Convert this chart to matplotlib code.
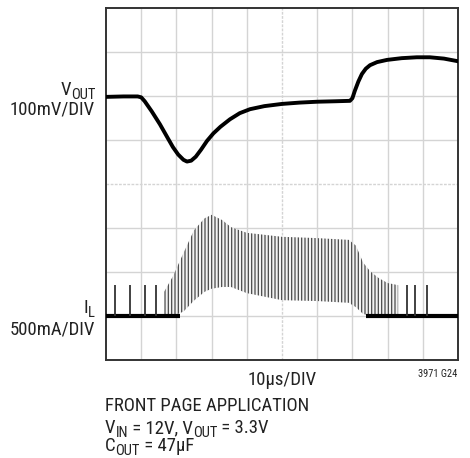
import matplotlib
matplotlib.use("Agg")
import matplotlib.pyplot as plt
from matplotlib import font_manager

# scope trace, in divisions (x: 0..10, y: 0..8)
vout_t = [0.0, 0.5, 0.9, 1.0, 1.1, 1.3, 1.53, 1.75, 1.9, 2.05, 2.2, 2.3, 2.42, 2.55,
          2.7, 2.87, 3.05, 3.25, 3.52, 3.8, 4.09, 4.5, 5.0, 5.5, 6.0, 6.5, 6.93, 7.0,
          7.07, 7.17, 7.27, 7.38, 7.5, 7.7, 7.98, 8.4, 8.83, 9.2, 9.6, 10.0]
vout_v = [5.98, 5.99, 5.99, 5.97, 5.88, 5.65, 5.36, 5.05, 4.84, 4.67, 4.55, 4.51, 4.53, 4.62,
          4.78, 4.98, 5.15, 5.3, 5.47, 5.61, 5.7, 5.77, 5.82, 5.85, 5.87, 5.88, 5.89, 5.95,
          6.12, 6.33, 6.5, 6.62, 6.7, 6.77, 6.82, 6.86, 6.88, 6.88, 6.85, 6.79]

# inductor current ripple envelope (peaks and valleys)
il_t = [1.65, 1.9, 2.2, 2.5, 2.8, 3.0, 3.3, 3.55, 4.0, 5.0, 6.0, 6.9, 7.1, 7.3, 7.5, 7.75, 8.0, 8.3]
il_peak = [1.55, 1.9, 2.43, 2.95, 3.22, 3.3, 3.18, 3.02, 2.89, 2.8, 2.77, 2.73, 2.6, 2.22, 2.02, 1.86, 1.75, 1.7]
il_valley = [1.0, 1.0, 1.1, 1.35, 1.55, 1.62, 1.66, 1.66, 1.52, 1.36, 1.34, 1.3, 1.2, 1.05, 1.0, 1.0, 1.0, 1.0]
il_base = 1.0
spike_t = [0.26, 0.68, 1.11, 1.43, 8.55, 8.78, 9.12]
spike_top = [1.7, 1.7, 1.7, 1.7, 1.7, 1.7, 1.7]

names = {f.name for f in font_manager.fontManager.ttflist}
font = next((f for f in ["Roboto Condensed", "Archivo Narrow", "Liberation Sans Narrow", "Roboto"]
             if f in names), "DejaVu Sans")
plt.rcParams["font.family"] = [font, "DejaVu Sans"]
plt.rcParams["hatch.linewidth"] = 0.9

W, H = 470, 458
fig = plt.figure(figsize=(W / 100, H / 100), dpi=100)
ax = fig.add_axes([106 / W, 1 - 360 / H, 352 / W, 352 / H])
ax.set_xlim(0, 10)
ax.set_ylim(0, 8)

# graticule
for gx in range(1, 10):
    ax.axvline(gx, color="#d4d4d4", lw=1.0, ls=(0, (2, 1)) if gx == 5 else "-", zorder=0)
for gy in range(1, 8):
    ax.axhline(gy, color="#d4d4d4", lw=1.0, ls=(0, (2, 1)) if gy == 4 else "-", zorder=0)
ax.set_xticks([])
ax.set_yticks([])
for s in ax.spines.values():
    s.set_color("#333333")
    s.set_linewidth(1.4)

# inductor current
ax.fill_between(il_t, il_valley, il_peak, facecolor="#f2f2f2", edgecolor="#4a4a4a",
                hatch="|||||", linewidth=0, zorder=2)
ax.plot([0, 2.1], [il_base, il_base], color="black", lw=3.0, solid_capstyle="butt", zorder=3)
ax.plot([7.4, 10], [il_base, il_base], color="black", lw=3.0, solid_capstyle="butt", zorder=3)
ax.vlines(spike_t, il_base, spike_top, color="#333333", lw=1.3, zorder=3)

# output voltage
ax.plot(vout_t, vout_v, color="black", lw=2.8, solid_joinstyle="round", zorder=4)

renderer = fig.canvas.get_renderer()


def rich(px, py, runs, size=13.5, ha="left"):
    """Text made of (string, is_subscript) runs, baseline at pixel row py."""
    items = []
    for s, sub in runs:
        t = fig.text(0, 0, s, fontsize=size * 0.78 if sub else size, va="baseline",
                     color="#222222")
        items.append((t, sub, t.get_window_extent(renderer).width))
    total = sum(w for _, _, w in items)
    x = px - total if ha == "right" else px - total / 2 if ha == "center" else px
    for t, sub, w in items:
        t.set_position((x / W, 1 - (py + (4 if sub else 0)) / H))
        x += w


rich(95, 95, [("V", False), ("OUT", True)], ha="right")
rich(95, 115, [("100mV/DIV", False)], ha="right")
rich(95, 313, [("I", False), ("L", True)], ha="right")
rich(95, 335, [("500mA/DIV", False)], ha="right")
rich(282, 385, [("10μs/DIV", False)], ha="center")
rich(457, 377, [("3971 G24", False)], size=7.5, ha="right")
rich(105, 411, [("FRONT PAGE APPLICATION", False)])
rich(105, 433, [("V", False), ("IN", True), (" = 12V, V", False), ("OUT", True), (" = 3.3V", False)])
rich(105, 451, [("C", False), ("OUT", True), (" = 47μF", False)])

fig.savefig("out.png", dpi=100)
